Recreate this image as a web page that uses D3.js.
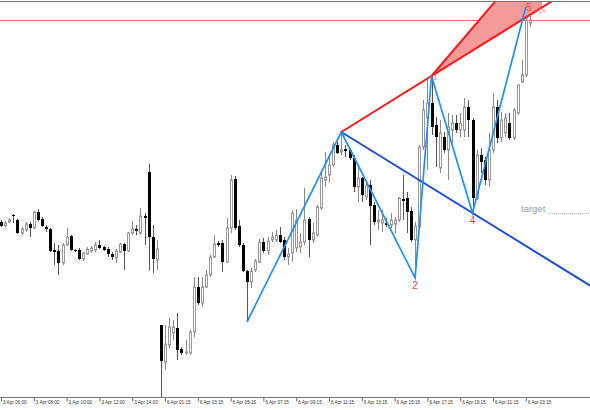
<!DOCTYPE html>
<html>
<head>
<meta charset="utf-8">
<script src="https://cdn.jsdelivr.net/npm/d3@7"></script>
<style>
html,body{margin:0;padding:0;background:#fff;}
svg{display:block;}
</style>
</head>
<body>
<div id="chart"></div>
<script>
// ---- DATA (price units, one candle per 15 minutes) ----
const open  = [178,174,178,185,180,167,170,176,172,188,181,173,171,150,149,137,155,164,150,150,141,146,149,150,155,153,151,146,142,148,156,149,167,171,167,184,228,163,140,75,38,55,67,72,51,47,47,68,113,97,113,125,143,157,157,138,172,221,174,155,129,118,130,138,158,149,160,160,165,160,143,147,152,153,158,181,160,165,192,220,225,235,255,248,251,250,242,213,222,203,215,195,178,177,177,175,176,180,201,202,189,160,173,253,282,297,275,232,263,250,270,277,270,270,293,280,202,245,240,220,250,293,262,267,277,262,287,318,325,377];
const high  = [180,179,182,186,181,173,178,178,189,191,183,175,172,157,155,157,172,165,151,152,148,153,154,158,160,154,153,148,151,157,157,168,179,175,192,187,236,175,160,75,75,82,80,87,53,60,70,123,123,123,130,145,165,159,160,182,225,224,180,157,130,132,141,161,162,163,168,170,173,163,152,190,191,167,212,183,177,195,227,248,243,258,258,268,255,252,245,232,223,220,220,198,190,190,182,187,183,203,225,208,193,178,255,300,322,324,283,280,268,287,285,285,287,302,300,282,250,252,243,267,307,300,288,287,287,292,315,340,393,384];
const low   = [173,173,177,177,166,165,168,163,171,179,173,168,148,135,125,135,154,149,148,140,139,145,147,148,151,149,143,140,137,147,130,148,165,165,165,155,130,127,130,3,30,52,60,40,45,45,45,63,95,93,112,123,142,153,128,137,167,170,153,128,78,112,128,137,147,145,158,158,157,140,135,138,148,147,155,143,157,163,190,213,217,233,246,245,243,240,208,198,198,200,155,175,170,168,173,172,167,178,180,167,158,122,170,250,230,265,233,227,247,220,257,267,263,263,263,187,200,227,215,213,247,257,258,263,260,260,285,317,323,373];
const close = [174,177,180,184,167,171,176,172,188,180,174,171,149,148,137,155,163,150,149,141,147,151,152,155,152,150,146,143,149,156,149,167,171,169,184,182,163,141,151,39,56,73,73,50,47,48,68,113,97,113,125,143,156,155,138,172,220,172,155,129,118,129,139,158,149,159,163,165,158,143,146,187,180,158,180,160,167,193,222,223,235,255,247,250,249,242,213,222,205,215,194,178,180,180,175,180,180,202,199,188,160,174,253,290,297,273,263,267,250,273,277,270,277,293,280,202,245,238,220,250,293,262,280,282,262,290,315,325,380,380];

const tickLabels = ["3 Apr 06:00","3 Apr 08:00","3 Apr 10:00","3 Apr 12:00","3 Apr 14:00",
  "6 Apr 01:15","6 Apr 03:15","6 Apr 05:15","6 Apr 07:15","6 Apr 09:15","6 Apr 11:15",
  "6 Apr 13:15","6 Apr 15:15","6 Apr 17:15","6 Apr 19:15","6 Apr 21:15","6 Apr 23:15"];

// wave points: candle index and price
const waveIdx   = [60, 83, 101, 105, 115, 128];
const wavePrice = [78, 268, 122, 324, 187, 393];
const waveNames = ["", "1", "2", "3", "4", "5"];

// triangle projection (from point 3) and horizontal level
const projIdx = 132;
const projHigh = 453.6;
const levelPrice = 380;
const targetPrice = 187;

// ---- CHART ----
const W = 590, H = 410;
const svg = d3.select("#chart").append("svg").attr("width", W).attr("height", H);

const x = d3.scaleLinear().domain([0, 140]).range([1, 575]);
const y = d3.scaleLinear().domain([0, 400]).range([400, 0]);
const axisY = 397.5;

svg.append("defs").append("clipPath").attr("id","plot")
  .append("rect").attr("x",0).attr("y",2).attr("width",W).attr("height",axisY-2);

const plot = svg.append("g").attr("clip-path","url(#plot)");

// horizontal red level
plot.append("line").attr("x1",0).attr("x2",W)
  .attr("y1", Math.round(y(levelPrice))+0.5).attr("y2", Math.round(y(levelPrice))+0.5)
  .attr("stroke","#f07070").attr("stroke-width",1);

// candles
const data = open.map((o,i)=>({i, o, h:high[i], l:low[i], c:close[i]}));
const cx = d => Math.round(x(d.i)) + 0.5;
const cg = plot.append("g");
cg.selectAll("line.wick").data(data).join("line")
  .attr("class","wick")
  .attr("x1",cx).attr("x2",cx)
  .attr("y1",d=>y(d.h)).attr("y2",d=>y(d.l))
  .attr("stroke",d=>d.c>=d.o?"#8a8a8a":"#555").attr("stroke-width",1);
cg.selectAll("rect.body").data(data).join("rect")
  .attr("class","body")
  .attr("x",d=> d.c>=d.o ? cx(d)-1 : cx(d)-1.5)
  .attr("width",d=> d.c>=d.o ? 2 : 3)
  .attr("y",d=> y(Math.max(d.o,d.c)))
  .attr("height",d=> Math.max(1, Math.abs(y(d.o)-y(d.c))))
  .attr("fill",d=> d.c>=d.o ? "#fff" : "#000")
  .attr("stroke",d=> d.c>=d.o ? "#999" : "none")
  .attr("stroke-width",1);

// red fan triangle
const p1 = [x(waveIdx[1]), y(wavePrice[1])];
const p3 = [x(waveIdx[3]), y(wavePrice[3])];
const slopeRed = (wavePrice[3]-wavePrice[1])/(waveIdx[3]-waveIdx[1]);
const lowProj = wavePrice[3] + slopeRed*(projIdx-waveIdx[3]);
plot.append("path")
  .attr("d", d3.line()([p3, [x(projIdx), y(projHigh)], [x(projIdx), y(lowProj)]]))
  .attr("fill","#f79a9a").attr("stroke","none");
plot.append("line")
  .attr("x1",p3[0]).attr("y1",p3[1]).attr("x2",x(projIdx)).attr("y2",y(projHigh))
  .attr("stroke","#ff1a1a").attr("stroke-width",2);

// red trend line through 1 and 3
const endIdx = 146;
plot.append("line")
  .attr("x1",p1[0]).attr("y1",p1[1])
  .attr("x2",x(endIdx)).attr("y2",y(wavePrice[1]+slopeRed*(endIdx-waveIdx[1])))
  .attr("stroke","#ff1a1a").attr("stroke-width",2);

// dark blue line through 1 and 4
const slopeBlue = (wavePrice[4]-wavePrice[1])/(waveIdx[4]-waveIdx[1]);
plot.append("line")
  .attr("x1",p1[0]).attr("y1",p1[1])
  .attr("x2",x(endIdx)).attr("y2",y(wavePrice[1]+slopeBlue*(endIdx-waveIdx[1])))
  .attr("stroke","#1b50d8").attr("stroke-width",2);

// zigzag waves
plot.append("path")
  .attr("d", d3.line().x((d,k)=>x(waveIdx[k])).y((d,k)=>y(wavePrice[k]))(waveIdx))
  .attr("fill","none").attr("stroke","#1e90ff").attr("stroke-width",1.7)
  .attr("stroke-linejoin","miter");

// target
svg.append("text").attr("x",521).attr("y",y(targetPrice)-1)
  .attr("font-family","Liberation Sans, Arial, sans-serif").attr("font-size",9.5)
  .attr("fill","#a0a0a0").text("target");
svg.append("line").attr("x1",548).attr("x2",W)
  .attr("y1",Math.round(y(targetPrice))+0.5).attr("y2",Math.round(y(targetPrice))+0.5)
  .attr("stroke","#bbb").attr("stroke-dasharray","1,1");

// wave labels
const lab = svg.append("g").attr("font-family","Liberation Sans, Arial, sans-serif")
  .attr("font-size",10).attr("fill","#ff3b3b").attr("text-anchor","middle");
lab.append("text").attr("x",x(waveIdx[2])).attr("y",y(wavePrice[2])+11).text(waveNames[2]);
lab.append("text").attr("x",x(waveIdx[4])).attr("y",y(wavePrice[4])+11).text(waveNames[4]);
lab.append("text").attr("x",x(waveIdx[5])+3).attr("y",y(wavePrice[5])+4).text(waveNames[5]);
lab.append("text").attr("x",p3[0]+3).attr("y",p3[1]+4).attr("font-size",8).attr("fill","#ff6a6a").text(waveNames[3]);
lab.append("text").attr("transform",`translate(${x(projIdx)-3},${y(lowProj)+4}) rotate(90)`)
  .attr("font-size",9).attr("fill","#f4a0a0").text(waveNames[5]);

// frame lines
svg.append("line").attr("x1",0).attr("x2",W).attr("y1",1.5).attr("y2",1.5)
  .attr("stroke","#777").attr("stroke-width",1);

// x axis
const axis = d3.axisBottom(x)
  .tickValues(tickLabels.map((t,k)=>k*8))
  .tickFormat((d,k)=>tickLabels[k])
  .tickSize(4).tickSizeOuter(0);
const ag = svg.append("g").attr("transform",`translate(0,${axisY})`).call(axis);
ag.select(".domain").remove();
ag.selectAll(".tick line").attr("stroke","#666");
ag.selectAll(".tick text").attr("text-anchor","start").attr("x",1.5).attr("y",3.5)
  .attr("dy","0.75em").attr("font-size",4.6).attr("fill","#333")
  .attr("font-family","Liberation Sans, Arial, sans-serif");
svg.append("line").attr("x1",0).attr("x2",W).attr("y1",axisY).attr("y2",axisY)
  .attr("stroke","#777").attr("stroke-width",1);
</script>
</body>
</html>
